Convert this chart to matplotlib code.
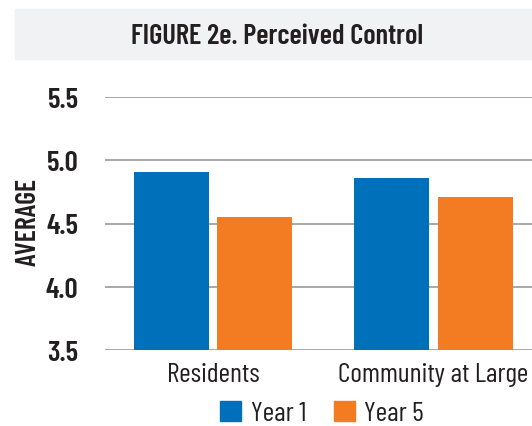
"""Perceived Control bar chart"""
import numpy as np
import matplotlib
matplotlib.use('Agg')
import matplotlib.pyplot as plt
from matplotlib.patches import Rectangle, Patch

plt.rcParams['font.family'] = ['Barlow Condensed', 'Roboto Condensed', 'DejaVu Sans']

# data
categories = ['Residents', 'Community at Large']
series_names = ['Year 1', 'Year 5']
year1 = [4.91, 4.86]
year5 = [4.55, 4.71]
yticks = [3.5, 4.0, 4.5, 5.0, 5.5]

BLUE = '#0070ba'
ORANGE = '#f37b21'
TEXT = '#231f20'

fig = plt.figure(figsize=(5.32, 4.27), dpi=100)

# title band
fig.patches.append(Rectangle((15 / 532, 1 - 60 / 427), 1, 50 / 427,
                             transform=fig.transFigure, color='#f1f2f3', zorder=0))
fig.text(277 / 532, 1 - 36 / 427, 'FIGURE 2e. Perceived Control',
         ha='center', va='center', fontsize=20.5, fontweight=600, color=TEXT)

ax = fig.add_axes([105 / 532, 1 - 351 / 427, 1 - 105 / 532, 253 / 427])

x = np.arange(len(categories))
w = 0.34
gap = 0.02
ax.bar(x - w / 2 - gap, year1, w, color=BLUE, zorder=3)
ax.bar(x + w / 2 + gap, year5, w, color=ORANGE, zorder=3)

ax.set_ylim(3.5, 5.5)
ax.set_xlim(-0.49, 1.447)
ax.set_yticks(yticks)
ax.set_yticklabels([f'{v:.1f}' for v in yticks], fontsize=21, fontweight=600, color=TEXT)
ax.set_xticks(x)
ax.set_xticklabels(categories, fontsize=20, color=TEXT)
ax.tick_params(axis='both', length=0)
ax.tick_params(axis='y', pad=19)
ax.tick_params(axis='x', pad=9)
ax.yaxis.grid(True, color='#999999', linewidth=1.2, zorder=0)
ax.set_axisbelow(True)
for s in ax.spines.values():
    s.set_visible(False)

fig.text(28 / 532, 1 - 222 / 427, 'AVERAGE', rotation=90, ha='center', va='center',
         fontsize=20, fontweight=600, color=TEXT)

handles = [Patch(color=BLUE, label=series_names[0]),
           Patch(color=ORANGE, label=series_names[1])]
fig.legend(handles=handles, loc='center', bbox_to_anchor=(322 / 532, 1 - 414 / 427),
           ncol=2, frameon=False, fontsize=20, handlelength=0.75, handleheight=0.75,
           handletextpad=0.35, columnspacing=1.0, labelcolor=TEXT, borderpad=0)

fig.savefig('out.png', dpi=100)
